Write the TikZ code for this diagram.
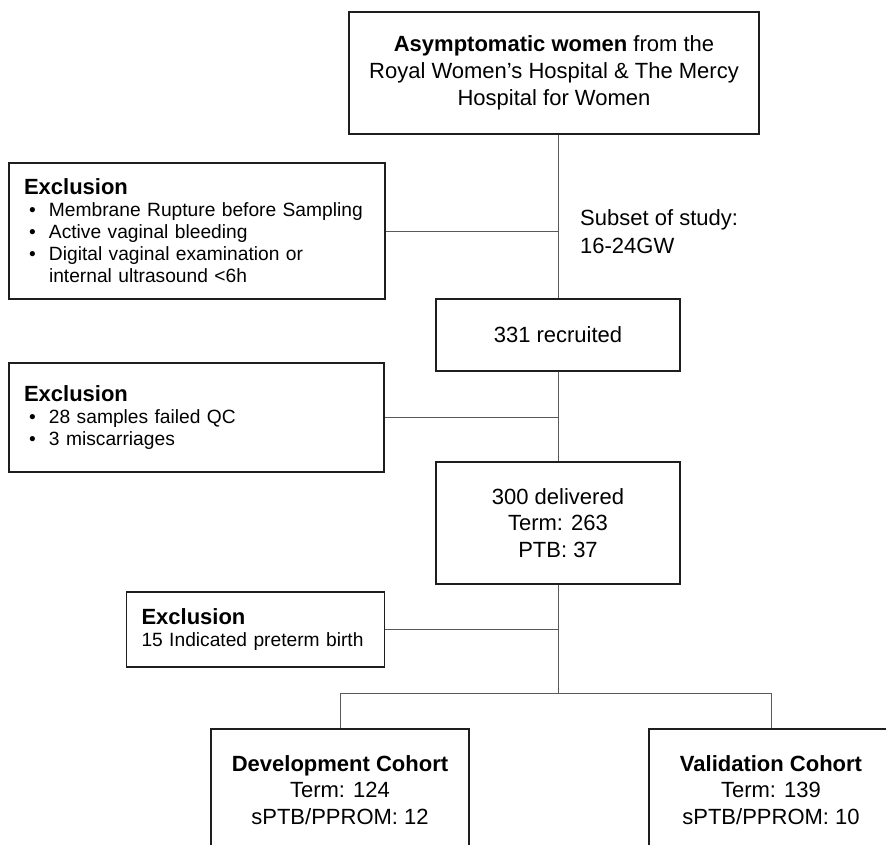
\documentclass[tikz,border=0pt]{standalone}
\usepackage{fontspec}
\setmainfont{Liberation Sans}
\definecolor{boxc}{HTML}{1E1E1E}
\definecolor{linec}{HTML}{595959}
\newcommand{\exitem}[1]{\mbox{\makebox[25pt][l]{\hspace{5pt}•}#1}}
\newcommand{\exhead}{{\fontsize{22}{22}\selectfont\bfseries Exclusion}}
\begin{document}
\begin{tikzpicture}[x=1pt,y=-1pt,
  box/.style={draw=boxc, line width=1.6pt, inner sep=0pt, align=center,
    font=\fontsize{22}{26.7}\selectfont},
  exbox/.style={draw=boxc, line width=1.6pt, inner xsep=15pt, inner ysep=0pt,
    align=left, font=\fontsize{19.2}{22}\selectfont},
  link/.style={draw=linec, line width=1pt},
  plain/.style={inner sep=0pt, align=left, font=\fontsize{22}{28}\selectfont}]
\useasboundingbox (0,0) rectangle (886,844);
\clip (0,0) rectangle (886,844);

\node[box, minimum width=410pt, minimum height=122pt] (top) at (554,73)
  {\textbf{Asymptomatic women} from the\\Royal Women’s Hospital \& The Mercy\\Hospital for Women};

\node[exbox, minimum width=376pt, minimum height=136pt, text width=346pt] (ex1) at (197,231)
  {\exhead\\
   \exitem{Membrane Rupture before Sampling}\\
   \exitem{Active vaginal bleeding}\\
   \exitem{Digital vaginal examination or}\\
   \mbox{\hspace{25pt}internal ultrasound <6h}};

\node[plain, anchor=west] (sub) at (580,232) {Subset of study:\\16-24GW};

\node[box, minimum width=244pt, minimum height=72pt] (rec) at (558,335) {331 recruited};

\node[exbox, minimum width=375pt, minimum height=109pt, text width=345pt] (ex2) at (196.5,417.5)
  {\exhead\\
   \exitem{28 samples failed QC}\\
   \exitem{3 miscarriages}};

\node[box, minimum width=244pt, minimum height=122pt] (del) at (558,523)
  {300 delivered\\Term: 263\\PTB: 37};

\node[exbox, minimum width=258pt, minimum height=75pt, text width=228pt] (ex3) at (255.5,629.5)
  {\exhead\\
   \mbox{15 Indicated preterm birth}};

\node[box, minimum width=258pt, minimum height=122pt] (dev) at (340,790)
  {\textbf{Development Cohort}\\Term: 124\\sPTB/PPROM: 12};
\node[box, minimum width=244pt, minimum height=122pt] (val) at (771,790)
  {\textbf{Validation Cohort}\\Term: 139\\sPTB/PPROM: 10};

\coordinate (bar) at (558,693);

\draw[link] (top.south -| rec.north) -- (rec.north);
\draw[link] (rec.south) -- (del.north);
\draw[link] (del.south) -- (bar);
\draw[link] (dev.north) |- (val.north |- bar) -- (val.north);
\draw[link] (ex1.east) -- (ex1.east -| rec.north);
\draw[link] (ex2.east) -- (ex2.east -| rec.north);
\draw[link] (ex3.east) -- (ex3.east -| rec.north);
\end{tikzpicture}
\end{document}
